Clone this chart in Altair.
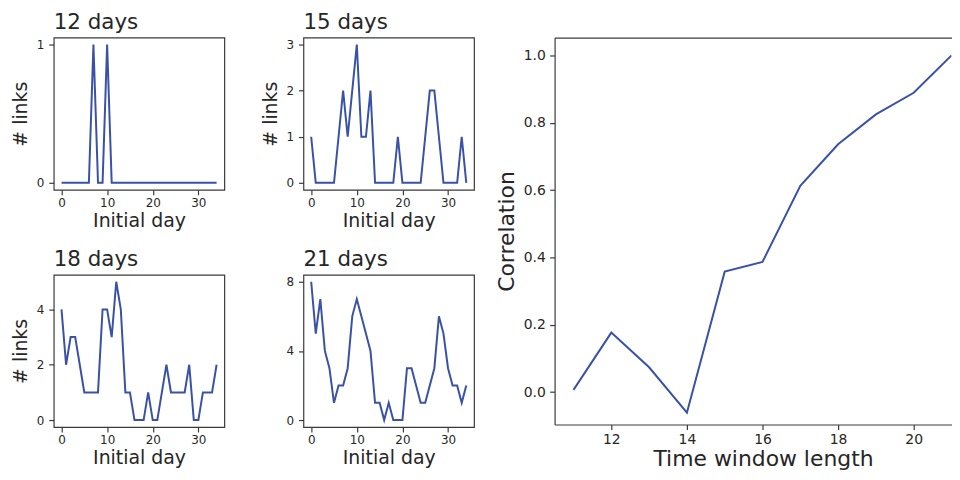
import altair as alt
import pandas as pd

FONT = "DejaVu Sans"
TEXT = "#262626"
LINE = "#3a52a6"
FRAME = "#3a3a3a"

days = [0, 1, 2, 3, 4, 5, 6, 7, 8, 9, 10, 11, 12, 13, 14, 15, 16, 17, 18, 19,
        20, 21, 22, 23, 24, 25, 26, 27, 28, 29, 30, 31, 32, 33, 34]
links_12 = [0, 0, 0, 0, 0, 0, 0, 1, 0, 0, 1, 0, 0, 0, 0, 0, 0, 0, 0, 0,
            0, 0, 0, 0, 0, 0, 0, 0, 0, 0, 0, 0, 0, 0, 0]
links_15 = [1, 0, 0, 0, 0, 0, 1, 2, 1, 2, 3, 1, 1, 2, 0, 0, 0, 0, 0, 1,
            0, 0, 0, 0, 0, 1, 2, 2, 1, 0, 0, 0, 0, 1, 0]
links_18 = [4, 2, 3, 3, 2, 1, 1, 1, 1, 4, 4, 3, 5, 4, 1, 1, 0, 0, 0, 1,
            0, 0, 1, 2, 1, 1, 1, 1, 2, 0, 0, 1, 1, 1, 2]
links_21 = [8, 5, 7, 4, 3, 1, 2, 2, 3, 6, 7, 6, 5, 4, 1, 1, 0, 1, 0, 0,
            0, 3, 3, 2, 1, 1, 2, 3, 6, 5, 3, 2, 2, 1, 2]

window_length = [11, 12, 13, 14, 15, 16, 17, 18, 19, 20, 21]
correlation = [0.007, 0.177, 0.074, -0.061, 0.358, 0.387, 0.613, 0.736, 0.825, 0.889, 1.0]

x_ticks = [0, 10, 20, 30]
corr_x_ticks = [12, 14, 16, 18, 20]
corr_y_ticks = [0.0, 0.2, 0.4, 0.6, 0.8, 1.0]

small_axis = dict(
    labelFont=FONT, labelFontSize=12, labelColor=TEXT, labelPadding=5,
    titleFont=FONT, titleFontSize=19, titleColor=TEXT, titleFontWeight="normal",
    titlePadding=5.5, tickSize=5, tickColor=FRAME, tickWidth=1.2,
    domain=False, grid=False,
)


def panel(values, title, ydom, yticks, ytitle):
    df = pd.DataFrame({"day": days, "links": values})
    yaxis_kw = dict(small_axis)
    yaxis_kw["values"] = yticks
    yaxis_kw["format"] = "d"
    if ytitle:
        yaxis_kw["title"] = "# links"
    else:
        yaxis_kw["title"] = None
    xaxis_kw = dict(small_axis)
    xaxis_kw["labelPadding"] = 3
    xaxis_kw["titlePadding"] = 3
    return alt.Chart(
        df,
        title=alt.Title(title, anchor="start", frame="group", fontSize=21.5, offset=4.2,
                        color=TEXT, font=FONT, fontWeight="normal"),
    ).mark_line(color=LINE, strokeWidth=2).encode(
        x=alt.X("day:Q", scale=alt.Scale(domain=[-1.7, 35.7], nice=False, zero=False),
                axis=alt.Axis(values=x_ticks, title="Initial day", **xaxis_kw)),
        y=alt.Y("links:Q", scale=alt.Scale(domain=ydom, nice=False, zero=False),
                axis=alt.Axis(**yaxis_kw)),
    ).properties(width=171.5, height=153,
                 view=alt.ViewBackground(stroke=FRAME, strokeWidth=1.2))


p12 = panel(links_12, "12 days", [-0.05, 1.05], [0, 1], True)
p15 = panel(links_15, "15 days", [-0.15, 3.15], [0, 1, 2, 3], True)
p18 = panel(links_18, "18 days", [-0.25, 5.25], [0, 2, 4], True)
p21 = panel(links_21, "21 days", [-0.4, 8.4], [0, 4, 8], False)

grid = alt.concat(p12, p15, p18, p21, columns=2, spacing={"row": 16.5, "column": 35})

cdf = pd.DataFrame({"window": window_length, "corr": correlation})
xs = alt.Scale(domain=[10.5, 21.0], nice=False, zero=False)
ys = alt.Scale(domain=[-0.096, 1.053], nice=False, zero=False)

big_axis = dict(
    labelFont=FONT, labelFontSize=14, labelColor=TEXT, labelPadding=4.3,
    titleFont=FONT, titleFontSize=22, titleColor=TEXT, titleFontWeight="normal",
    titlePadding=4.5, tickSize=5, tickColor=FRAME, tickWidth=1.2,
    domain=True, domainColor=FRAME, domainWidth=1.2, grid=False,
)

y_big = alt.Y("corr:Q", scale=ys,
              axis=alt.Axis(values=corr_y_ticks, format=".1f", title="Correlation", **big_axis))

xaxis_big = dict(big_axis)
xaxis_big["labelPadding"] = 3
xaxis_big["titlePadding"] = 2
xaxis_big["titleX"] = 209.5

corr_line = alt.Chart(cdf).mark_line(color=LINE, strokeWidth=2, clip=True).encode(
    x=alt.X("window:Q", scale=xs,
            axis=alt.Axis(values=corr_x_ticks, title="Time window length", **xaxis_big)),
    y=y_big,
)

top_frame = alt.Chart(cdf).mark_line(strokeOpacity=0, clip=True).encode(
    x=alt.X("window:Q", scale=xs,
            axis=alt.Axis(orient="top", labels=False, title=None, values=[12],
                          tickSize=25, tickOpacity=0, domain=True,
                          domainColor=FRAME, domainWidth=1.2, grid=False)),
    y=y_big,
)

right = alt.layer(corr_line, top_frame).resolve_axis(x="independent").properties(
    width=399, height=389, view=alt.ViewBackground(stroke="transparent"))

chart = alt.hconcat(grid, right, spacing=19.5).properties(
    padding={"left": 3, "top": 1.5, "right": 0, "bottom": 0}
).configure(font=FONT).configure_view(stroke="transparent")

chart.save("out.html", embed_options={"renderer": "svg", "actions": False})
